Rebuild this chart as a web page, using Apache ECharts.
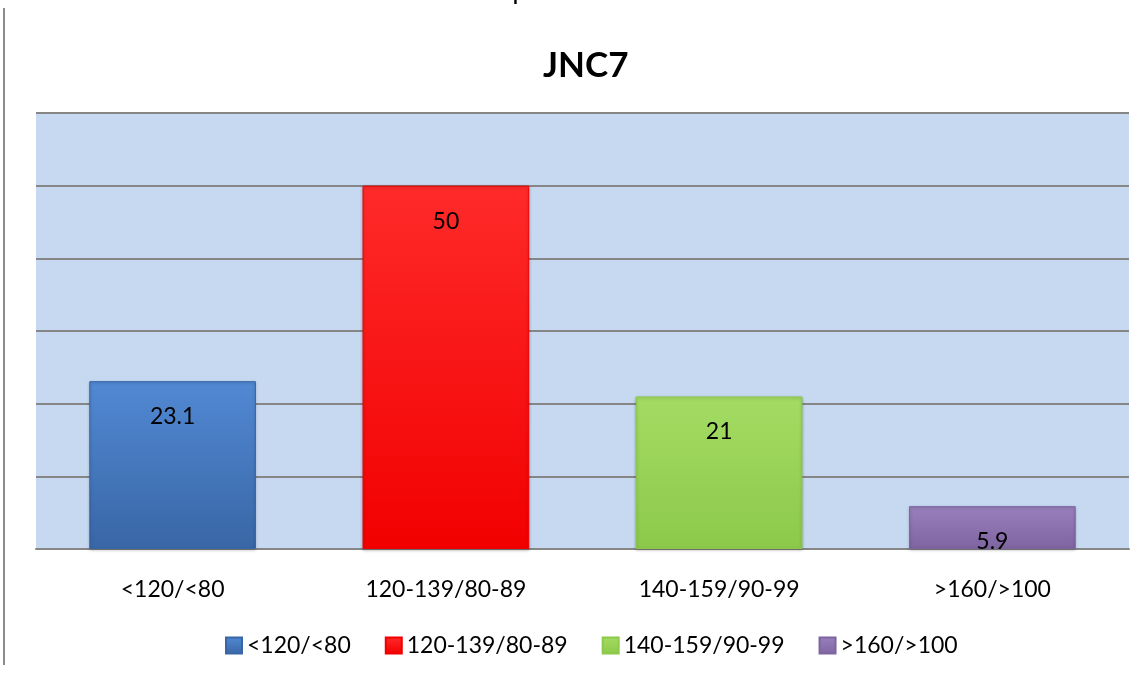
<!DOCTYPE html>
<html>
<head>
<meta charset="utf-8">
<script src="https://cdn.jsdelivr.net/npm/echarts@6/dist/echarts.min.js"></script>
<style>
html, body { margin: 0; padding: 0; background: #fff; }
#chart { width: 1143px; height: 673px; }
</style>
</head>
<body>
<div id="chart"></div>
<script>
// categories and values
var categories = ['<120/<80', '120-139/80-89', '140-159/90-99', '>160/>100'];
var values = [23.1, 50, 21, 5.9];
var seriesColors = [
	['#5189d3', '#3966a6'],
	['#ff2a2a', '#f20000'],
	['#a4dc63', '#8cc94a'],
	['#9a80bd', '#7e64a0']
];
var yMax = 60;
var yStep = 10;

var font = 'Lato, "Open Sans", sans-serif';
var chart = echarts.init(document.getElementById('chart'));

var series = categories.map(function (name, i) {
	var data = categories.map(function (c, j) {
		return j === i ? values[i] : '-';
	});
	return {
		name: name,
		type: 'bar',
		stack: 'all',
		barWidth: '61%',
		data: data,
		itemStyle: {
			color: new echarts.graphic.LinearGradient(0, 0, 0, 1, [
				{ offset: 0, color: seriesColors[i][0] },
				{ offset: 1, color: seriesColors[i][1] }
			]),
			borderColor: seriesColors[i][1],
			borderWidth: 1,
			shadowColor: 'rgba(0,0,0,0.25)',
			shadowBlur: 3,
			shadowOffsetY: 1
		},
		label: {
			show: true,
			position: 'insideTop',
			distance: 24,
			color: '#000',
			fontSize: 23,
			fontFamily: font
		}
	};
});

chart.setOption({
	animation: false,
	backgroundColor: '#fff',
	title: {
		text: 'JNC7',
		left: 538,
		top: 43,
		textStyle: { fontSize: 35, fontWeight: 'bold', color: '#000', fontFamily: font }
	},
	grid: { left: 36, right: 14, top: 113, bottom: 124, containLabel: false,
		show: true, backgroundColor: '#c6d9f1', borderWidth: 0 },
	legend: {
		bottom: 11,
		left: 220,
		itemWidth: 16,
		itemHeight: 16,
		itemGap: 34,
		icon: 'rect',
		textStyle: { fontSize: 23, color: '#000', fontFamily: font },
		data: categories
	},
	xAxis: {
		type: 'category',
		data: categories,
		axisTick: { show: false },
		axisLine: { show: true, lineStyle: { color: '#868686', width: 2 } },
		axisLabel: { color: '#000', fontSize: 23, margin: 29, fontFamily: font }
	},
	yAxis: {
		type: 'value',
		min: 0,
		max: yMax,
		interval: yStep,
		axisLabel: { show: false },
		axisLine: { show: false },
		axisTick: { show: false },
		splitLine: { lineStyle: { color: '#868686', width: 2 } }
	},
	graphic: [
		{
			type: 'line',
			shape: { x1: 4, y1: 8, x2: 4, y2: 665 },
			style: { stroke: '#8c8c8c', lineWidth: 2 }
		},
		{
			type: 'text',
			left: 265,
			top: -16,
			style: {
				text: 'Gráfica 4 Clasificación de la población de acuerdo al JNC7',
				fontSize: 20,
				fontWeight: 'bold',
				fill: '#000',
				fontFamily: font
			}
		}
	],
	series: series
});
</script>
</body>
</html>
